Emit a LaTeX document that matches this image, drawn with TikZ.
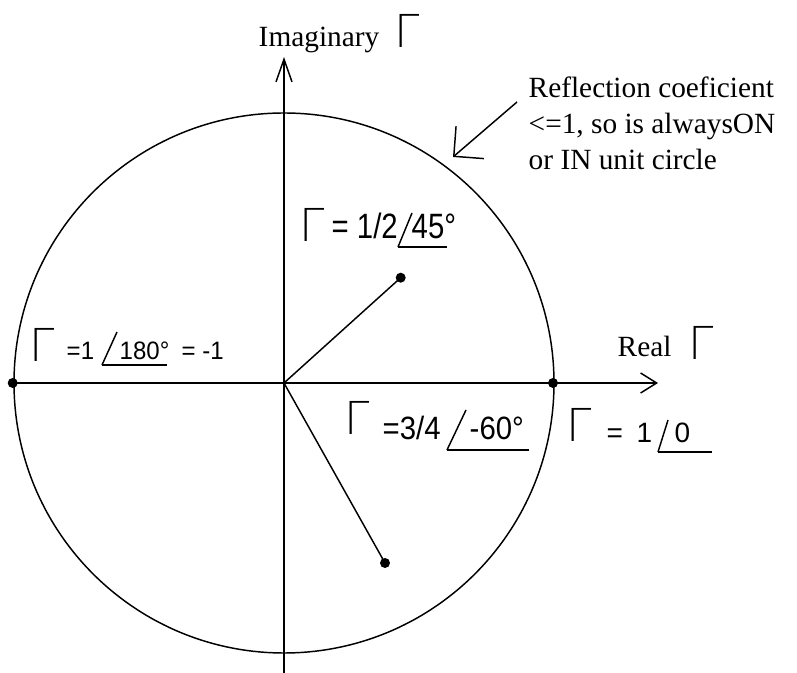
\documentclass[tikz,border=0pt]{standalone}
\usepackage{fontspec}
\usepackage{graphicx}
\setmainfont{Liberation Serif}
\newfontfamily\sansf{Liberation Sans}
\newfontfamily\gamf{DejaVu Sans ExtraLight}
\usetikzlibrary{arrows.meta,calc}
\begin{document}
\begin{tikzpicture}[x=0.75pt,y=-0.75pt,line width=1.1pt,
  dot/.style={circle,fill=black,inner sep=0pt,minimum size=7.5pt},
  serif/.style={font=\fontsize{22}{27}\selectfont,inner sep=0pt,anchor=base west},
  gam/.style={font=\gamf\fontsize{34}{34}\selectfont,inner sep=0pt,anchor=base west},
  sA/.style={font=\sansf\fontsize{18}{18}\selectfont,inner sep=0pt,anchor=base west},
  sB/.style={font=\sansf\fontsize{22}{22}\selectfont,inner sep=0pt,anchor=base west},
  sD/.style={font=\sansf\fontsize{21}{21}\selectfont,inner sep=0pt,anchor=base west}]
\useasboundingbox (0,0) rectangle (797,673);

% axes and circle
\coordinate (O) at (284,383);
\coordinate (vB) at (284,673);
\coordinate (vT) at (284,57);
\coordinate (hR) at (658,383);
\node[dot] (dL) at (12.7,383) {};
\node[dot] (dR) at (553,383) {};
\draw (O) circle [radius=270];
\draw[-{Straight Barb[length=17pt,width=12pt]}] (vB) -- (vT);
\draw[-{Straight Barb[length=12pt,width=15pt]}] (dL.center) -- (hR);

% points
\node[dot] (p1) at (400.7,277.7) {};
\node[dot] (p2) at (385,563) {};
\draw (O) -- (p1.center);
\draw (O) -- (p2.center);

% axis labels
\node[serif] (im) at (258,47) {Imaginary};
\node[gam] (gIm) at (394,48) {Γ};
\node[serif] (re) at (617,357) {Real};
\node[gam] (gRe) at (688,360) {Γ};

% annotation
\node[serif] (r1) at (528,98) {Reflection coeficient};
\node[serif] (r2) at (528,134) {<=1, so is alwaysON};
\node[serif] (r3) at (528,170) {or IN unit circle};
\coordinate (aS) at (517,102);
\coordinate (aE) at (453,157);
\draw[-{Straight Barb[length=16pt,width=32pt]}] (aS) -- (aE);

% label A: 1/180 = -1
\node[gam] (gA) at (29,362) {Γ};
\node[sA] (eqA) at (66,360) {\scalebox{1}[1.05]{=1}};
\node[sA] (numA) at (119,360) {\scalebox{1}[1.05]{180°}};
\node[sA] (tlA) at (181,360) {\scalebox{1}[1.05]{= -1}};
\coordinate (cA) at ($(numA.base west)+(-17,5)$);
\draw (cA) -- ++(65,0);
\draw (cA) -- ++(15,-33);

% label B: 1/2 /45
\node[gam] (gB) at (299,242) {Γ};
\node[sB] (eqB) at (331,239) {\scalebox{1}[1.2]{= 1/2}};
\node[sB] (numB) at (411,239) {\scalebox{1}[1.2]{45°}};
\coordinate (cB) at ($(numB.base west)+(-13,8)$);
\draw (cB) -- ++(49,0);
\draw (cB) -- ++(14,-34);

% label C: 3/4 /-60
\node[gam] (gC) at (344,435) {Γ};
\node[sB] (eqC) at (382,440) {\scalebox{1}[1.1]{=3/4}};
\node[sB] (numC) at (469,440) {\scalebox{1}[1.1]{-60°}};
\coordinate (cC) at ($(numC.base west)+(-22,10)$);
\draw (cC) -- ++(82,0);
\draw (cC) -- ++(19,-40);

% label D: 1 /0
\node[gam] (gD) at (566,442) {Γ};
\node[sD] (eqD) at (606,443) {=};
\node[sD] (oneD) at (636,443) {1};
\node[sD] (numD) at (674,443) {0};
\coordinate (cD) at ($(numD.base west)+(-16,9)$);
\draw (cD) -- ++(54,0);
\draw (cD) -- ++(10,-32);
\end{tikzpicture}
\end{document}
